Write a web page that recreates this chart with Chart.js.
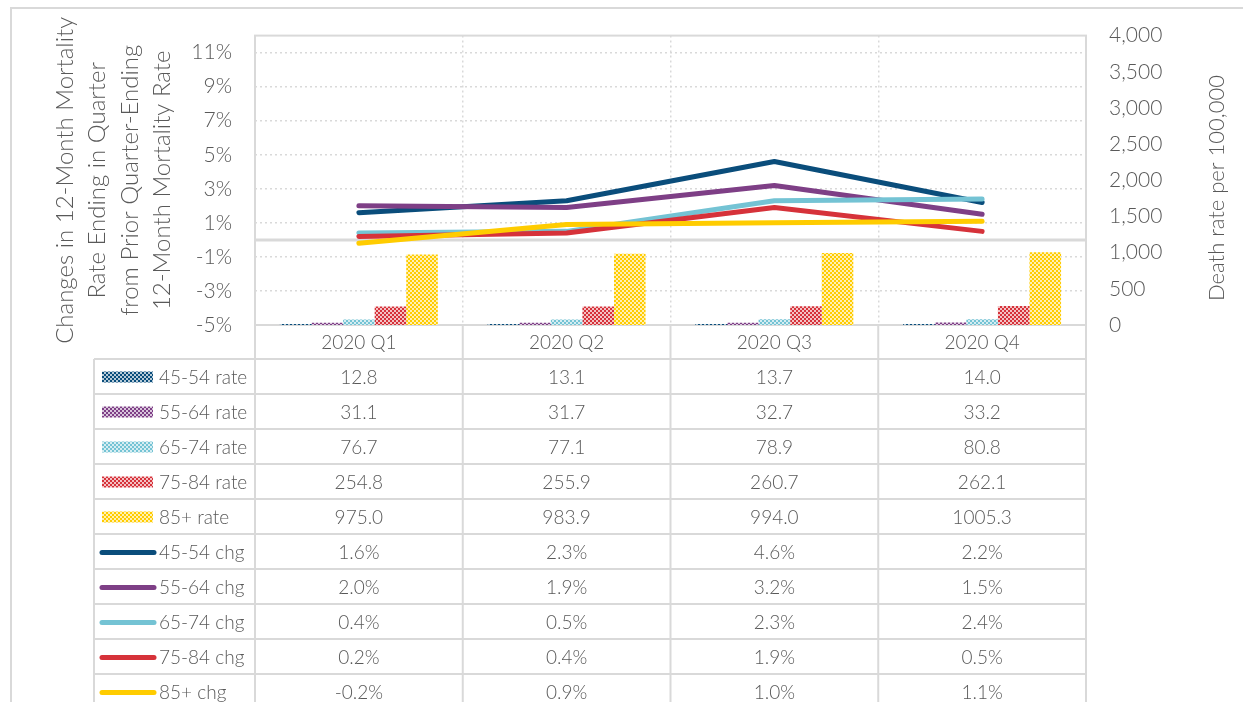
<!DOCTYPE html>
<html>
<head>
<meta charset="utf-8">
<script src="https://cdn.jsdelivr.net/npm/chart.js@4.4.1/dist/chart.umd.min.js"></script>
<style>
  html, body { margin: 0; padding: 0; background: #fff; }
  #wrap { position: relative; width: 1243px; height: 702px; }
</style>
</head>
<body>
<div id="wrap"><canvas id="mortChart" width="1243" height="702"></canvas></div>
<script>
// categories
const quarters = ['2020 Q1', '2020 Q2', '2020 Q3', '2020 Q4'];

// death rate per 100,000 (right axis, bars)
const rate4554 = [12.8, 13.1, 13.7, 14.0];
const rate5564 = [31.1, 31.7, 32.7, 33.2];
const rate6574 = [76.7, 77.1, 78.9, 80.8];
const rate7584 = [254.8, 255.9, 260.7, 262.1];
const rate85 = [975.0, 983.9, 994.0, 1005.3];

// change vs prior quarter, % (left axis, lines)
const chg4554 = [1.6, 2.3, 4.6, 2.2];
const chg5564 = [2.0, 1.9, 3.2, 1.5];
const chg6574 = [0.4, 0.5, 2.3, 2.4];
const chg7584 = [0.2, 0.4, 1.9, 0.5];
const chg85 = [-0.2, 0.9, 1.0, 1.1];

const leftTicks = [-5, -3, -1, 1, 3, 5, 7, 9, 11];

const colors = ['#0a4d7b', '#7e3f86', '#74c3d4', '#d6323a', '#ffcc00'];
const gridGray = '#d9d9d9';
const textGray = '#595959';
const fontFam = 'Lato, "Noto Sans", sans-serif';

function checker(color) {
    const c = document.createElement('canvas');
    c.width = 4; c.height = 4;
    const g = c.getContext('2d');
    g.fillStyle = color;
    g.fillRect(0, 0, 4, 4);
    g.fillStyle = 'rgba(255,255,255,0.7)';
    g.fillRect(0, 0, 2, 2);
    g.fillRect(2, 2, 2, 2);
    return g.createPattern(c, 'repeat');
}

function barSet(label, data, i) {
    return {
        type: 'bar', label: label, data: data, yAxisID: 'y1',
        backgroundColor: checker(colors[i]), borderWidth: 0,
        categoryPercentage: 0.76, barPercentage: 1, order: 10,
        rowType: 'bar', keyColor: colors[i]
    };
}
function lineSet(label, data, i) {
    return {
        type: 'line', label: label, data: data, yAxisID: 'y',
        borderColor: colors[i], backgroundColor: colors[i], borderWidth: 5,
        borderCapStyle: 'round', borderJoinStyle: 'round',
        pointRadius: 0, tension: 0, order: 5 - i,
        rowType: 'line', keyColor: colors[i]
    };
}

// plot frame, zero line and the data table underneath
const tablePlugin = {
    id: 'tablePlugin',
    beforeDraw(chart) {
        const ctx = chart.ctx;
        ctx.save();
        ctx.strokeStyle = gridGray;
        ctx.lineWidth = 2;
        ctx.strokeRect(11, 8, 1300, 800);
        ctx.restore();
    },
    beforeDatasetsDraw(chart) {
        const ctx = chart.ctx, a = chart.chartArea;
        const y0 = chart.scales.y.getPixelForValue(0);
        ctx.save();
        ctx.strokeStyle = gridGray;
        ctx.lineWidth = 3;
        ctx.beginPath();
        ctx.moveTo(a.left, y0); ctx.lineTo(a.right, y0);
        ctx.stroke();
        ctx.lineWidth = 2;
        ctx.strokeRect(a.left, a.top, a.right - a.left, a.bottom - a.top);
        ctx.restore();
    },
    afterDraw(chart) {
        const ctx = chart.ctx, a = chart.chartArea, xs = chart.scales.x;
        const headH = 34, rowH = 35, keyLeft = 94;
        const sets = chart.data.datasets;
        const cols = [a.left];
        for (let i = 0; i < quarters.length; i++) {
            const next = i < quarters.length - 1
                ? (xs.getPixelForValue(i) + xs.getPixelForValue(i + 1)) / 2 : a.right;
            cols.push(next);
        }
        const top = a.bottom, bodyTop = top + headH;
        const bottom = bodyTop + rowH * sets.length;
        ctx.save();
        ctx.strokeStyle = gridGray;
        ctx.lineWidth = 2;
        ctx.beginPath();
        cols.forEach(x => { ctx.moveTo(x, top); ctx.lineTo(x, bottom); });
        ctx.moveTo(keyLeft, bodyTop); ctx.lineTo(keyLeft, bottom);
        for (let r = 0; r <= sets.length; r++) {
            ctx.moveTo(keyLeft, bodyTop + r * rowH);
            ctx.lineTo(a.right, bodyTop + r * rowH);
        }
        ctx.stroke();

        ctx.fillStyle = textGray;
        ctx.font = '300 19px ' + fontFam;
        ctx.textBaseline = 'middle';
        ctx.textAlign = 'center';
        quarters.forEach((q, i) => ctx.fillText(q, xs.getPixelForValue(i), top + headH / 2 + 1));

        sets.forEach((ds, r) => {
            const cy = bodyTop + r * rowH + rowH / 2 + 1;
            if (ds.rowType === 'bar') {
                ctx.fillStyle = ds.backgroundColor;
                ctx.fillRect(102, cy - 6, 51, 11);
            } else {
                ctx.strokeStyle = ds.keyColor;
                ctx.lineWidth = 5;
                ctx.lineCap = 'round';
                ctx.beginPath();
                ctx.moveTo(102, cy); ctx.lineTo(154, cy);
                ctx.stroke();
            }
            ctx.fillStyle = textGray;
            ctx.textAlign = 'left';
            ctx.fillText(ds.label, 159, cy);
            ctx.textAlign = 'center';
            ds.data.forEach((v, i) => {
                const txt = ds.rowType === 'bar' ? v.toFixed(1) : v.toFixed(1) + '%';
                ctx.fillText(txt, xs.getPixelForValue(i), cy);
            });
        });

        // right axis title, reading bottom to top
        ctx.translate(1217, 188);
        ctx.rotate(-Math.PI / 2);
        ctx.textAlign = 'center';
        ctx.font = '300 22px ' + fontFam;
        ctx.fillText('Death rate per 100,000', 0, 0);
        ctx.restore();
    }
};

const chart = new Chart(document.getElementById('mortChart'), {
    data: {
        labels: quarters,
        datasets: [
            barSet('45-54 rate', rate4554, 0),
            barSet('55-64 rate', rate5564, 1),
            barSet('65-74 rate', rate6574, 2),
            barSet('75-84 rate', rate7584, 3),
            barSet('85+ rate', rate85, 4),
            lineSet('45-54 chg', chg4554, 0),
            lineSet('55-64 chg', chg5564, 1),
            lineSet('65-74 chg', chg6574, 2),
            lineSet('75-84 chg', chg7584, 3),
            lineSet('85+ chg', chg85, 4)
        ]
    },
    options: {
        responsive: false,
        animation: false,
        layout: { padding: { left: 0, top: 31, right: 0, bottom: 0 } },
        plugins: {
            legend: { display: false },
            tooltip: { enabled: false }
        },
        scales: {
            x: {
                offset: true,
                grid: { offset: true, drawTicks: false, color: gridGray, lineWidth: 1.5 },
                border: { display: false, dash: [2, 3] },
                ticks: { display: false },
                afterFit(scale) { scale.height = 377; }
            },
            y: {
                position: 'left',
                min: -5, max: 12,
                afterBuildTicks(scale) { scale.ticks = leftTicks.map(v => ({ value: v })); },
                grid: { drawTicks: false, color: gridGray, lineWidth: 1.5 },
                border: { display: false, dash: [2, 3] },
                ticks: {
                    padding: 23, color: textGray,
                    font: { family: fontFam, size: 21, weight: '300' },
                    callback: v => v + '%'
                },
                title: {
                    display: true,
                    text: ['Changes in 12-Month Mortality', 'Rate Ending in Quarter',
                           'from Prior Quarter-Ending', '12-Month Mortality Rate'],
                    color: textGray,
                    font: { family: fontFam, size: 24, weight: '300', lineHeight: 1.354 },
                    padding: { top: 49, bottom: 0 }
                },
                afterFit(scale) { scale.width = 255; }
            },
            y1: {
                position: 'right',
                min: 0, max: 4000,
                ticks: {
                    stepSize: 500, padding: 23, color: textGray,
                    font: { family: fontFam, size: 21, weight: '300' }
                },
                grid: { display: false, drawTicks: false },
                border: { display: false },
                afterFit(scale) { scale.width = 157; }
            }
        }
    },
    plugins: [tablePlugin]
});
</script>
</body>
</html>
